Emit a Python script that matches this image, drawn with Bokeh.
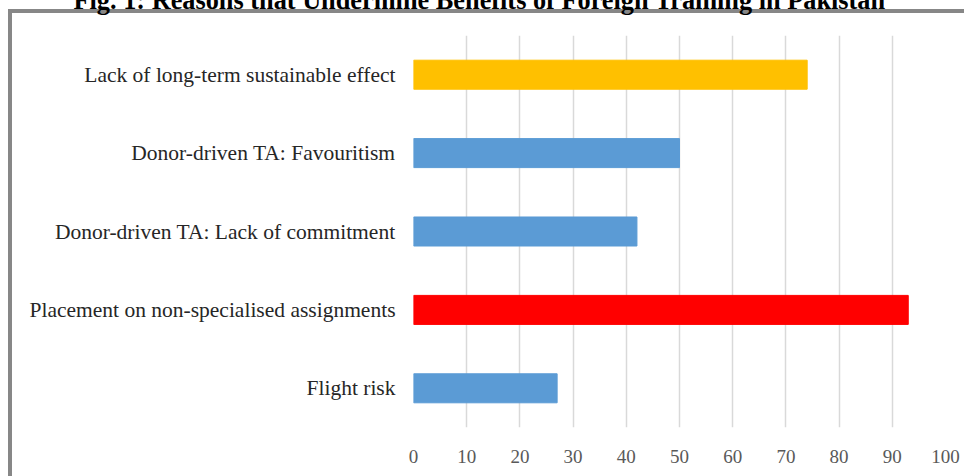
from bokeh.plotting import figure
from bokeh.models import FactorRange, Range1d, ColumnDataSource, FixedTicker
from bokeh.embed import file_html
from bokeh.resources import INLINE

title_text = "Fig. 1: Reasons that Undermine Benefits of Foreign Training in Pakistan"
categories = [
    "Flight risk",
    "Placement on non-specialised assignments",
    "Donor-driven TA: Lack of commitment",
    "Donor-driven TA: Favouritism",
    "Lack of long-term sustainable effect",
]
values = [27, 93, 42, 50, 74]
bar_colors = ["#5B9BD5", "#FF0000", "#5B9BD5", "#5B9BD5", "#FFC000"]
x_ticks = [0, 10, 20, 30, 40, 50, 60, 70, 80, 90, 100]

source = ColumnDataSource(dict(cat=categories, val=values, color=bar_colors))

SHIFT = 40  # canvas starts this many px above the page top (title is cut like the reference)

frame_css = {
    "position": "absolute",
    "left": "0px",
    "top": f"-{SHIFT}px",
    "background-color": "white",
    "background-image": "linear-gradient(#878787,#878787), linear-gradient(#878787,#878787)",
    "background-size": "4px 467px, 956px 4px",
    "background-position": f"8px {9 + SHIFT}px, 8px {9 + SHIFT}px",
    "background-repeat": "no-repeat",
}

p = figure(
    width=964, height=476 + SHIFT,
    y_range=FactorRange(factors=categories, range_padding=0),
    x_range=Range1d(0, 100),
    output_backend="svg", toolbar_location=None,
    min_border_left=413, min_border_right=19,
    min_border_top=35 + SHIFT, min_border_bottom=49,
    styles=frame_css,
)
p.hbar(y="cat", right="val", left=0, height=0.37, color="color", source=source)

p.title.text = title_text
p.title.text_font = "Liberation Serif"
p.title.text_font_style = "bold"
p.title.text_font_size = "26.3px"
p.title.text_color = "black"
p.title.align = "left"
p.title.offset = -340
p.title.standoff = 41

p.outline_line_color = None
p.background_fill_color = "white"
p.border_fill_color = None

p.xgrid.ticker = FixedTicker(ticks=x_ticks)
p.xgrid.grid_line_color = "#D9D9D9"
p.xgrid.grid_line_width = 1.5
p.ygrid.grid_line_color = None

p.xaxis.ticker = FixedTicker(ticks=x_ticks)
p.xaxis.axis_line_color = None
p.xaxis.major_tick_line_color = None
p.xaxis.minor_tick_line_color = None
p.xaxis.major_label_standoff = 16
p.xaxis.major_label_text_font = "Liberation Sans Narrow"
p.xaxis.major_label_text_font_size = "19px"
p.xaxis.major_label_text_color = "#595959"

p.yaxis.axis_line_color = None
p.yaxis.major_tick_line_color = None
p.yaxis.minor_tick_line_color = None
p.yaxis.major_label_standoff = 12
p.yaxis.major_label_text_font = "Liberation Serif"
p.yaxis.major_label_text_font_size = "21.5px"
p.yaxis.major_label_text_color = "#262626"

open("out.html", "w").write(file_html(p, INLINE))
